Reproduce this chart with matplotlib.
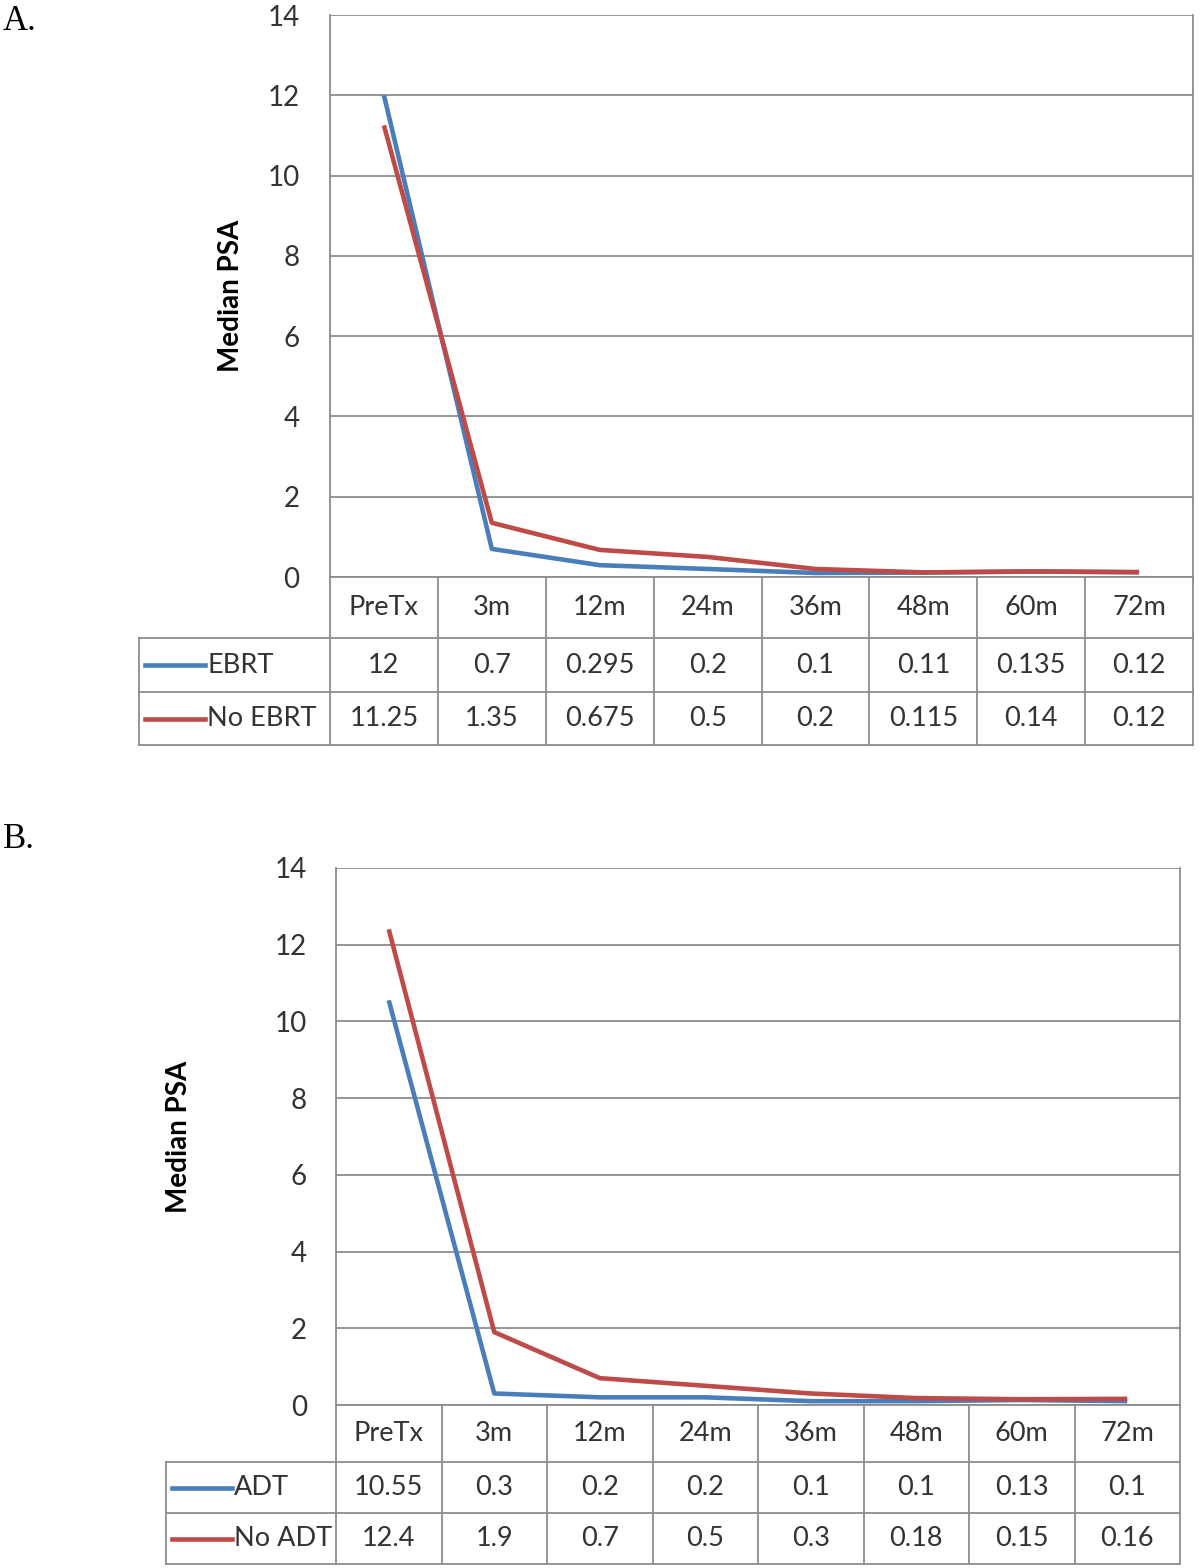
import matplotlib.pyplot as plt

# data
times = ['PreTx', '3m', '12m', '24m', '36m', '48m', '60m', '72m']
ebrt = [12, 0.7, 0.295, 0.2, 0.1, 0.11, 0.135, 0.12]
no_ebrt = [11.25, 1.35, 0.675, 0.5, 0.2, 0.115, 0.14, 0.12]
ebrt_txt = ['12', '0.7', '0.295', '0.2', '0.1', '0.11', '0.135', '0.12']
no_ebrt_txt = ['11.25', '1.35', '0.675', '0.5', '0.2', '0.115', '0.14', '0.12']
adt = [10.55, 0.3, 0.2, 0.2, 0.1, 0.1, 0.13, 0.1]
no_adt = [12.4, 1.9, 0.7, 0.5, 0.3, 0.18, 0.15, 0.16]
adt_txt = ['10.55', '0.3', '0.2', '0.2', '0.1', '0.1', '0.13', '0.1']
no_adt_txt = ['12.4', '1.9', '0.7', '0.5', '0.3', '0.18', '0.15', '0.16']
yticks = [0, 2, 4, 6, 8, 10, 12, 14]

BLUE = '#4A7EBB'
RED = '#BE4B48'
GRID = '#8C8C8C'
TXT = '#333333'
plt.rcParams['font.family'] = ['Lato', 'DejaVu Sans']

W, H = 1200, 1568
fig = plt.figure(figsize=(W / 100, H / 100), dpi=100)

# overlay in pixel coordinates for the tables and panel letters
ov = fig.add_axes([0, 0, 1, 1], zorder=5)
ov.set_xlim(0, W)
ov.set_ylim(H, 0)
ov.axis('off')
ov.patch.set_alpha(0)


def panel(left, right, top, bottom, lab_left, rows, names, values, texts, ylab_x, tick_pad):
    ax = fig.add_axes([left / W, 1 - bottom / H, (right - left) / W, (bottom - top) / H])
    ax.set_xlim(0, len(times))
    ax.set_ylim(0, 14)
    ax.set_yticks(yticks)
    ax.set_xticks([])
    ax.tick_params(axis='y', length=0, labelsize=20, labelcolor=TXT, pad=tick_pad)
    ax.grid(axis='y', color=GRID, lw=1.3)
    ax.set_axisbelow(True)
    for s in ['top', 'bottom']:
        ax.spines[s].set_visible(False)
    for s in ['left', 'right']:
        ax.spines[s].set_color(GRID)
        ax.spines[s].set_linewidth(1.3)
    xs = [i + 0.5 for i in range(len(times))]
    for vals, c in zip(values, [BLUE, RED]):
        ax.plot(xs, vals, color=c, lw=3.3, solid_capstyle='butt', clip_on=False)
    ax.set_ylabel('Median PSA', fontsize=20, fontweight='bold', color='black')
    ax.yaxis.set_label_coords((ylab_x - left) / (right - left), 0.5)

    # table
    colw = (right - left) / len(times)
    r0, r1, r2, r3 = rows
    lw = 1.3
    ov.plot([left, right], [r0, r0], color=GRID, lw=lw)
    for y in (r1, r2, r3):
        ov.plot([lab_left, right], [y, y], color=GRID, lw=lw)
    ov.plot([lab_left, lab_left], [r1, r3], color=GRID, lw=lw)
    for i in range(len(times) + 1):
        x = left + i * colw
        ov.plot([x, x], [r0, r3], color=GRID, lw=lw)
    for i, t in enumerate(times):
        cx = left + (i + 0.5) * colw
        ov.text(cx, (r0 + r1) / 2, t, ha='center', va='center', fontsize=19.5, color=TXT)
        ov.text(cx, (r1 + r2) / 2, texts[0][i], ha='center', va='center', fontsize=19.5, color=TXT)
        ov.text(cx, (r2 + r3) / 2, texts[1][i], ha='center', va='center', fontsize=19.5, color=TXT)
    for (y0, y1), nm, c in zip([(r1, r2), (r2, r3)], names, [BLUE, RED]):
        cy = (y0 + y1) / 2
        ov.plot([lab_left + 6, lab_left + 66], [cy, cy], color=c, lw=3.3)
        ov.text(lab_left + 68, cy, nm, ha='left', va='center', fontsize=19.5, color=TXT)


panel(330, 1193, 15, 577, 139, (577, 638, 692, 745), ['EBRT', 'No EBRT'],
      [ebrt, no_ebrt], [ebrt_txt, no_ebrt_txt], 244, 22)
panel(336, 1180, 868, 1405, 166, (1405, 1462, 1513, 1564), ['ADT', 'No ADT'],
      [adt, no_adt], [adt_txt, no_adt_txt], 192, 21)

ov.text(3, 21, 'A.', fontsize=25, family='Liberation Serif', va='center', ha='left')
ov.text(3, 839, 'B.', fontsize=25, family='Liberation Serif', va='center', ha='left')

fig.savefig('out.png', dpi=100)
